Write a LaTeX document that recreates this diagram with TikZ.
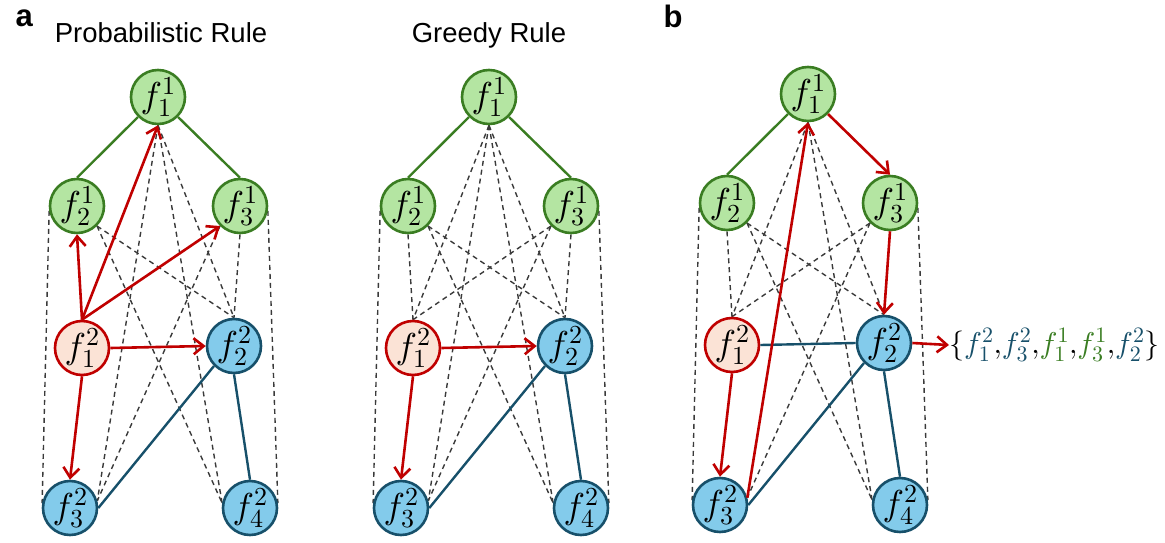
\documentclass[tikz,border=0pt]{standalone}
\usepackage{fontspec}
\setmainfont{Liberation Sans}
\usetikzlibrary{arrows.meta,backgrounds}
% make the math fonts freely scalable
\DeclareFontShape{OT1}{cmr}{m}{n}{<->cmr10}{}
\DeclareFontShape{OML}{cmm}{m}{it}{<->cmmi10}{}
\DeclareFontShape{OMS}{cmsy}{m}{n}{<->cmsy10}{}
\DeclareMathSizes{30}{30}{22}{16}
\DeclareMathSizes{36}{36}{26}{18}

\definecolor{gfill}{HTML}{B4E5A2}
\definecolor{gdraw}{HTML}{3A7D22}
\definecolor{bfill}{HTML}{83CBEB}
\definecolor{bdraw}{HTML}{17506A}
\definecolor{rfill}{HTML}{FBE3D6}
\definecolor{rdraw}{HTML}{C00000}
\definecolor{dgray}{HTML}{3A3A3A}

\tikzset{
  fnode/.style={circle, minimum size=54pt, inner sep=0pt, line width=2.6pt,
    font=\fontsize{36}{40}\selectfont},
  gnode/.style={fnode, draw=gdraw, fill=gfill},
  bnode/.style={fnode, draw=bdraw, fill=bfill},
  rnode/.style={fnode, draw=rdraw, fill=rfill},
  dline/.style={draw=dgray, line width=1.4pt, dash pattern=on 5pt off 4pt},
  gline/.style={draw=gdraw, line width=2.4pt},
  bline/.style={draw=bdraw, line width=2.4pt},
  rarrow/.style={draw=rdraw, line width=2.6pt,
    -{Straight Barb[length=10pt,width=16pt]}},
  titletext/.style={font=\fontsize{27.5}{32}\selectfont, anchor=base},
  paneltext/.style={font=\fontsize{31}{34}\selectfont\bfseries, anchor=base west},
}

% the seven feature nodes of one panel; #1 = name prefix
\newcommand\featurenodes[1]{%
  \node[gnode] (#1t) at (158,97)  {$f_1^1$};
  \node[gnode] (#1l) at (77,206)  {$f_2^1$};
  \node[gnode] (#1r) at (240,206) {$f_3^1$};
  \node[rnode] (#1s) at (82,348)  {$f_1^2$};
  \node[bnode] (#1m) at (234,346) {$f_2^2$};
  \node[bnode] (#1p) at (70,508)  {$f_3^2$};
  \node[bnode] (#1q) at (250,508) {$f_4^2$};
}

\begin{document}
\begin{tikzpicture}[x=1pt, y=-1pt]
\useasboundingbox (0,0) rectangle (1165,543);

% labels and titles
\node[paneltext] (la) at (12,27) {a};
\node[paneltext] (lb) at (660,28) {b};
\node[titletext] (tprob) at (161,43) {Probabilistic Rule};
\node[titletext] (tgreedy) at (489,43) {Greedy Rule};

% ---------- panel a: probabilistic rule ----------
\featurenodes{A}
\begin{pgfonlayer}{background}
  \draw[dline] (At.south) -- (Am.north);
  \draw[dline] (At.south) -- (Ap.15);
  \draw[dline] (At.south) -- (Aq.170);
  \draw[dline] (Al.190) -- (Ap.170);
  \draw[dline] (Al.south east) -- (Am.north);
  \draw[dline] (Al.south east) -- (Aq.170);
  \draw[dline] (Ar.south) -- (Am.north);
  \draw[dline] (Ar.south west) -- (Ap.15);
  \draw[dline] (Ar.-10) -- (Aq.10);
\end{pgfonlayer}
\draw[gline] (At.south west) -- (Al.north);
\draw[gline] (At.south east) -- (Ar.north);
\draw[bline] (Am.south west) -- (Ap.east);
\draw[bline] (Am.south) -- (Aq.north);
\draw[rarrow] (As.north) -- (Al.south);
\draw[rarrow] (As.north) -- (At.south);
\draw[rarrow] (As.north) -- (Ar.south west);
\draw[rarrow] (As.east) -- (Am.west);
\draw[rarrow] (As.south) -- (Ap.north);

% ---------- panel a: greedy rule ----------
\begin{scope}[shift={(331,0)}]
\featurenodes{G}
\end{scope}
\begin{pgfonlayer}{background}
  \draw[dline] (Gt.south) -- (Gs.north);
  \draw[dline] (Gt.south) -- (Gm.north);
  \draw[dline] (Gt.south) -- (Gp.15);
  \draw[dline] (Gt.south) -- (Gq.170);
  \draw[dline] (Gl.190) -- (Gp.170);
  \draw[dline] (Gl.south) -- (Gs.north);
  \draw[dline] (Gl.south east) -- (Gm.north);
  \draw[dline] (Gl.south east) -- (Gq.170);
  \draw[dline] (Gr.south west) -- (Gs.north);
  \draw[dline] (Gr.south) -- (Gm.north);
  \draw[dline] (Gr.south west) -- (Gp.15);
  \draw[dline] (Gr.-10) -- (Gq.10);
\end{pgfonlayer}
\draw[gline] (Gt.south west) -- (Gl.north);
\draw[gline] (Gt.south east) -- (Gr.north);
\draw[bline] (Gm.south west) -- (Gp.east);
\draw[bline] (Gm.south) -- (Gq.north);
\draw[rarrow] (Gs.east) -- (Gm.west);
\draw[rarrow] (Gs.south) -- (Gp.north);

% ---------- panel b ----------
\begin{scope}[shift={(650,-3)}]
\featurenodes{B}
\end{scope}
\begin{pgfonlayer}{background}
  \draw[dline] (Bt.south) -- (Bs.north);
  \draw[dline] (Bt.south) -- (Bm.north);
  \draw[dline] (Bt.south) -- (Bq.170);
  \draw[dline] (Bl.190) -- (Bp.170);
  \draw[dline] (Bl.south) -- (Bs.north);
  \draw[dline] (Bl.south east) -- (Bm.north);
  \draw[dline] (Bl.south east) -- (Bq.170);
  \draw[dline] (Br.south west) -- (Bs.north);
  \draw[dline] (Br.south west) -- (Bp.15);
  \draw[dline] (Br.-10) -- (Bq.10);
\end{pgfonlayer}
\draw[gline] (Bt.south west) -- (Bl.north);
\draw[bline] (Bs.east) -- (Bm.west);
\draw[bline] (Bm.south west) -- (Bp.east);
\draw[bline] (Bm.south) -- (Bq.north);
\draw[rarrow] (Bt.south east) -- (Br.north);
\draw[rarrow] (Br.south) -- (Bm.north);
\draw[rarrow] (Bs.south) -- (Bp.north);
\draw[rarrow] (Bp.15) -- (Bt.south);

\node[anchor=west, inner sep=0pt, font=\fontsize{30}{34}\selectfont] (set) at (949,345)
  {$\{\textcolor{bdraw}{f_1^2}{,}\textcolor{bdraw}{f_3^2}{,}\textcolor{gdraw}{f_1^1}{,}\textcolor{gdraw}{f_3^1}{,}\textcolor{bdraw}{f_2^2}\}$};
\draw[rarrow] (Bm.east) -- (set.west);

\end{tikzpicture}
\end{document}
